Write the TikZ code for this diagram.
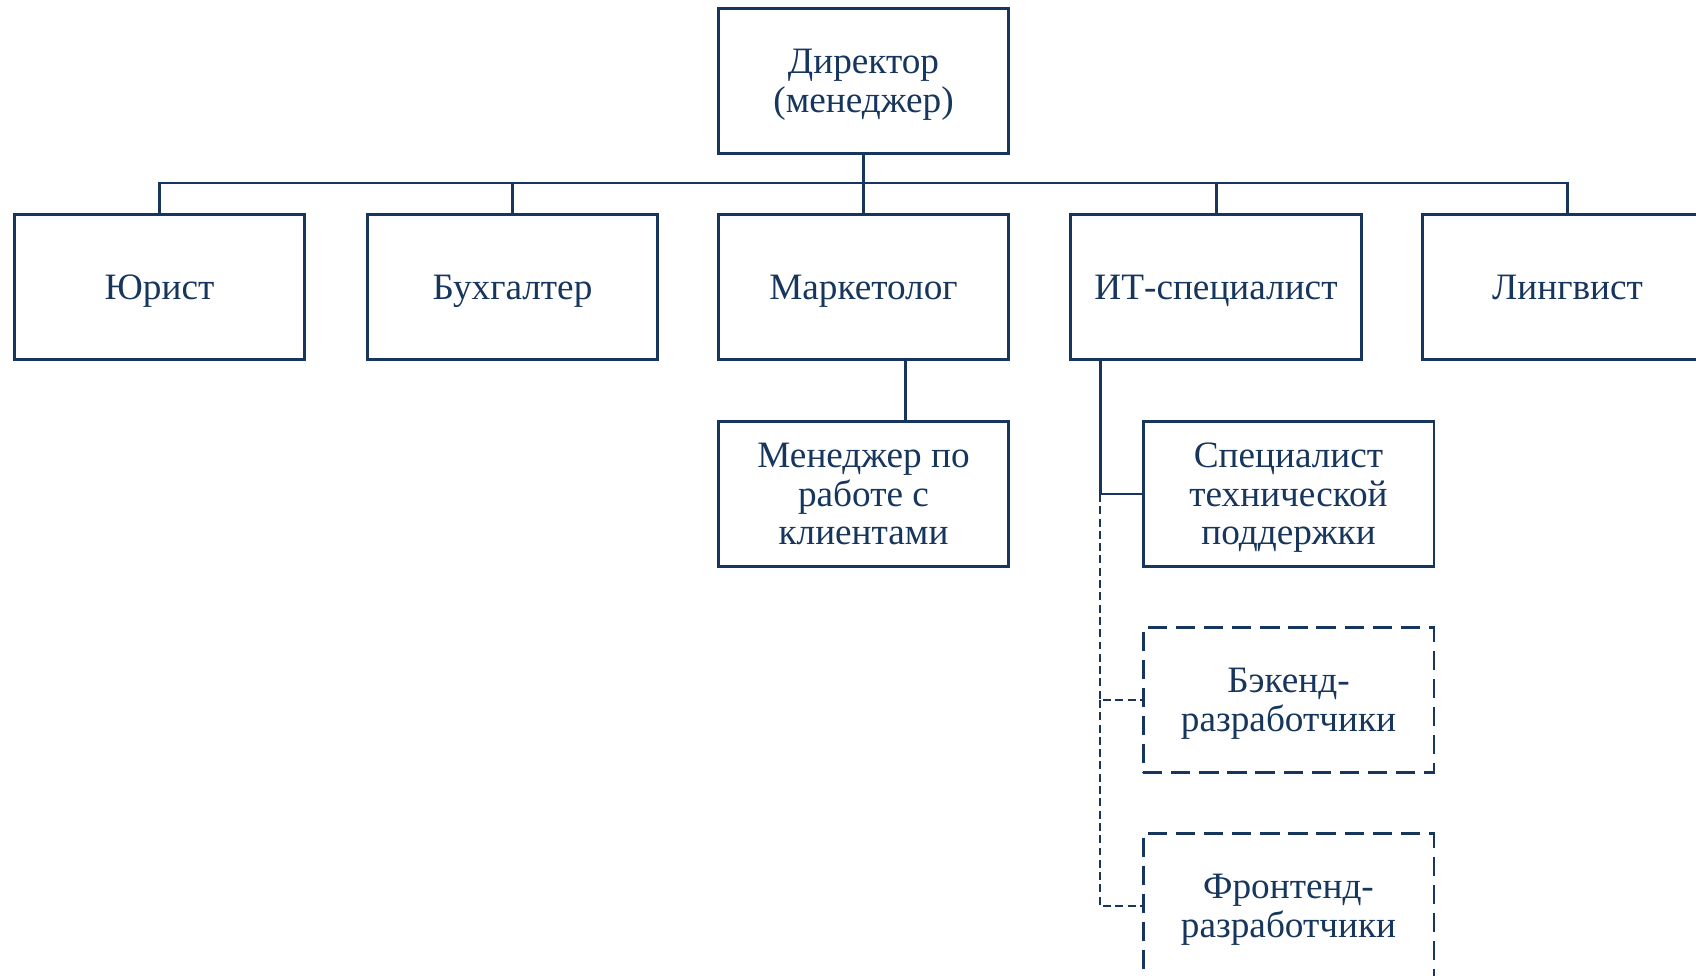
\documentclass[tikz,border=0pt]{standalone}
\usepackage{fontspec}
\setmainfont{Liberation Serif}
\definecolor{navy}{HTML}{17365D}
\tikzset{
  unit/.style={draw=navy, line width=1.7pt, text=navy, minimum width=5.82cm,
    minimum height=2.9cm, align=center, inner sep=0pt, text depth=0pt,
    font=\fontsize{21.2}{22}\selectfont},
  future/.style={unit, dash pattern=on 11pt off 5pt},
  link/.style={draw=navy, line width=1.7pt},
  plan/.style={draw=navy, line width=1.1pt, dash pattern=on 4.5pt off 2.5pt},
}
\begin{document}
\begin{tikzpicture}[x=0.02cm, y=-0.02cm]
\clip (0,0) rectangle (1696,976);

% top level
\node[unit] (dir) at (863.5,81) {Директор\\(менеджер)};

% second row
\node[unit] (jur) at (159.5,287) {Юрист};
\node[unit] (buh) at (512.5,287) {Бухгалтер};
\node[unit] (mark) at (863.5,287) {Маркетолог};
\node[unit] (it) at (1216,287) {ИТ-специалист};
\node[unit] (ling) at (1567.5,287) {Лингвист};

% third row
\node[unit] (man) at (863.5,494) {Менеджер по\\работе с\\клиентами};
\node[unit] (sup) at (1288.5,494) {Специалист\\технической\\поддержки};
\node[future] (back) at (1288.5,700) {Бэкенд-\\разработчики};
\node[future] (front) at (1288.5,906) {Фронтенд-\\разработчики};

% connectors
\coordinate (bus) at (863.5,183);
\draw[link] (dir.south) -- (bus);
\foreach \n in {jur,buh,mark,it,ling}
  \draw[link] (bus) -| (\n.north);

\coordinate (mk) at (905,0);
\draw[link] (mark.south -| mk) -- (man.north -| mk);

\coordinate (itx) at (1100,0);
\draw[link] (it.south -| itx) |- (sup.west);
\draw[plan] (sup.west -| itx) |- (back.west);
\draw[plan] (back.west -| itx) |- (front.west);

\end{tikzpicture}
\end{document}
